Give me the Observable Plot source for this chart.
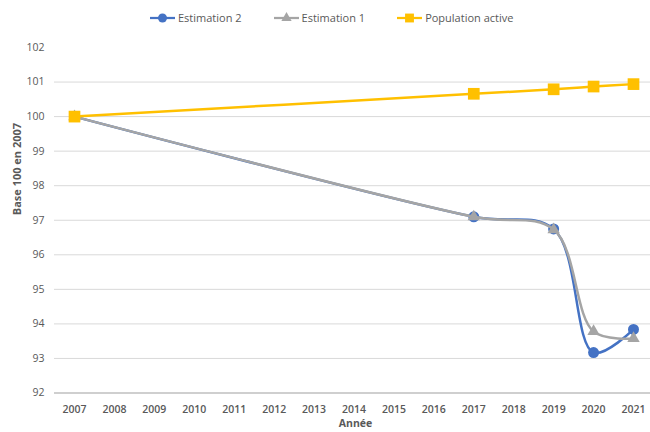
<!DOCTYPE html>
<html><head><meta charset="utf-8">
<script src="https://cdn.jsdelivr.net/npm/d3@7"></script>
<script src="https://cdn.jsdelivr.net/npm/@observablehq/plot@0.6"></script>
<style>
body{margin:0;background:#fff;font-family:"Open Sans",sans-serif;}
#legend{height:38px;position:relative;font-size:11px;color:#595959;}
#legend .wrap{position:absolute;left:150px;top:10px;display:flex;gap:32px;align-items:center;}
#legend .item{display:flex;align-items:center;gap:3px;}
#chart svg{display:block;}
</style></head><body>
<div id="legend"><div class="wrap"></div></div>
<div id="chart"></div>
<script>
const years = ["2007","2008","2009","2010","2011","2012","2013","2014","2015","2016","2017","2018","2019","2020","2021"];
const dataYears = ["2007","2017","2019","2020","2021"];
const estimation2 = [100, 97.10, 96.75, 93.17, 93.84];
const estimation1 = [100, 97.10, 96.73, 93.78, 93.58];
const populationActive = [100, 100.66, 100.79, 100.87, 100.94];
const yTicks = [92,93,94,95,96,97,98,99,100,101,102];
const seriesNames = ["Estimation 2","Estimation 1","Population active"];
const seriesValues = [estimation2, estimation1, populationActive];
const colors = ["#4472C4","#A5A5A5","#FFC000"];
const symbols = ["circle","triangle","square"];
const symbolR = [5.5, 4.6, 6.6];

// legend
const wrap = d3.select("#legend .wrap");
seriesNames.forEach((name, i) => {
  const it = wrap.append("div").attr("class","item");
  const s = it.append("svg").attr("width",25).attr("height",14);
  s.append("line").attr("x1",0).attr("x2",25).attr("y1",7).attr("y2",7).attr("stroke",colors[i]).attr("stroke-width",2.25);
  const sym = {circle:d3.symbolCircle, triangle:d3.symbolTriangle, square:d3.symbolSquare}[symbols[i]];
  s.append("path").attr("transform","translate(12.5,7)").attr("d", d3.symbol(sym, Math.PI*[4.5,3.8,5][i]**2)()).attr("fill",colors[i]);
  it.append("span").text(name);
});

const rows = seriesNames.map((name, i) => dataYears.map((yr, j) => ({series: name, year: yr, value: seriesValues[i][j]})));

const marks = [
  Plot.ruleY(yTicks.slice(1, -1), {stroke: "#D9D9D9", strokeWidth: 1}),
  Plot.ruleY([yTicks[0]], {stroke: "#BFBFBF", strokeWidth: 1.5}),
  Plot.axisY({ticks: yTicks, tickSize: 0, tickPadding: 10, fontSize: 10.5, fill: "#595959", label: null}),
  Plot.axisX({tickSize: 0, tickPadding: 13, fontSize: 10.5, fontWeight: 600, fill: "#595959", label: null}),
  Plot.text(["Base 100 en 2007"], {frameAnchor: "left", dx: -37, dy: -5, rotate: -90, fontSize: 11, fontWeight: "bold", fill: "#595959"}),
  Plot.text(["Année"], {frameAnchor: "bottom", dy: 34, dx: 3, lineAnchor: "bottom", fontSize: 10.5, fontWeight: "bold", fill: "#595959"})
];
rows.forEach((r, i) => {
  marks.push(Plot.line(r, {x: "year", y: "value", stroke: colors[i], strokeWidth: 2.5, curve: "catmull-rom"}));
  marks.push(Plot.dot(r, {x: "year", y: "value", fill: colors[i], symbol: symbols[i], r: symbolR[i], stroke: "none"}));
});

const chart = Plot.plot({
  width: 650,
  height: 394,
  marginLeft: 54,
  marginRight: 0,
  marginTop: 9,
  marginBottom: 39.5,
  style: {fontFamily: "'Open Sans', sans-serif", background: "#fff", overflow: "hidden"},
  x: {type: "point", domain: years, range: [74, 633], padding: 0, round: false},
  y: {domain: [92, 102]},
  marks
});
document.getElementById("chart").appendChild(chart);
</script>
</body></html>
